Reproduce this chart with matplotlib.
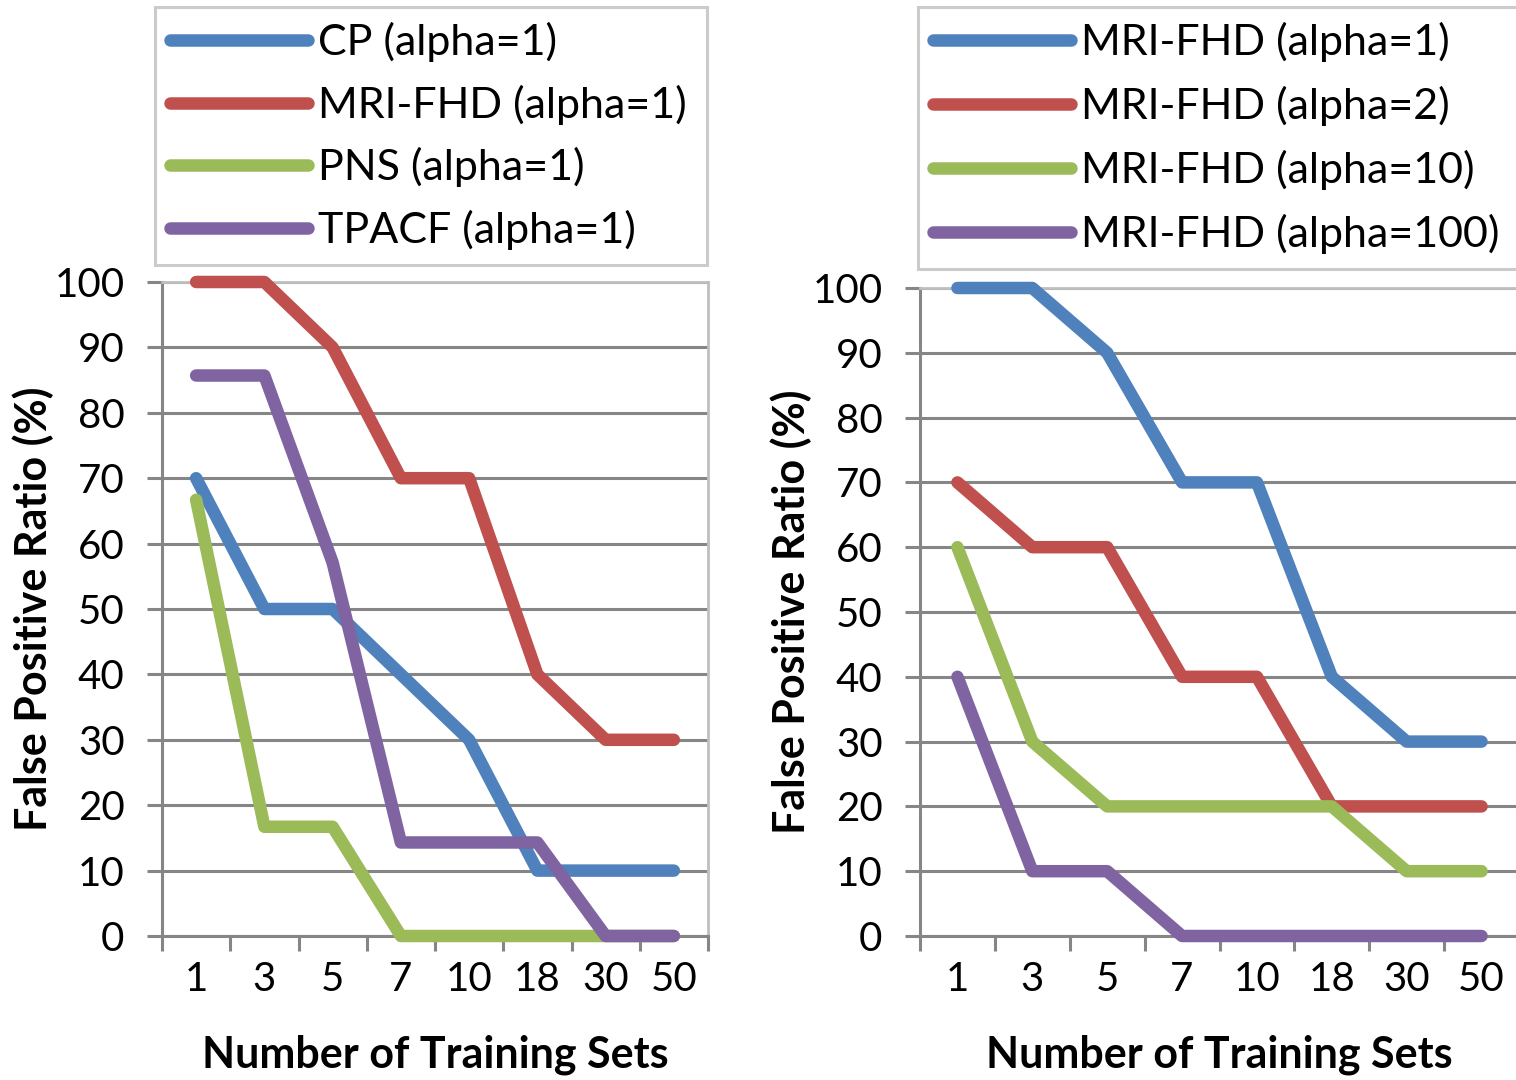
import matplotlib
matplotlib.use("Agg")
import matplotlib.pyplot as plt
from matplotlib.ticker import FixedLocator, NullFormatter

plt.rcParams['font.family'] = ['Lato', 'DejaVu Sans']

# data
categories = ['1', '3', '5', '7', '10', '18', '30', '50']

left_labels = ['CP (alpha=1)', 'MRI-FHD (alpha=1)', 'PNS (alpha=1)', 'TPACF (alpha=1)']
cp = [70, 50, 50, 40, 30, 10, 10, 10]
mri_fhd = [100, 100, 90, 70, 70, 40, 30, 30]
pns = [66.7, 16.7, 16.7, 0, 0, 0, 0, 0]
tpacf = [85.7, 85.7, 57.1, 14.3, 14.3, 14.3, 0, 0]

right_labels = ['MRI-FHD (alpha=1)', 'MRI-FHD (alpha=2)', 'MRI-FHD (alpha=10)', 'MRI-FHD (alpha=100)']
alpha1 = [100, 100, 90, 70, 70, 40, 30, 30]
alpha2 = [70, 60, 60, 40, 40, 20, 20, 20]
alpha10 = [60, 30, 20, 20, 20, 20, 10, 10]
alpha100 = [40, 10, 10, 0, 0, 0, 0, 0]

colors = ['#4F81BD', '#C0504D', '#9BBB59', '#8064A2']
grid_col = '#868686'
border_col = '#BFBFBF'

W, H = 1516, 1080
fig = plt.figure(figsize=(W / 100, H / 100), dpi=100)


def fx(px):
    return px / W


def fy(py):
    return 1 - py / H


def make_panel(rect, series, labels, leg_box, spacing):
    ax = fig.add_axes(rect)
    x = list(range(len(categories)))
    for vals, lab, c in zip(series, labels, colors):
        ax.plot(x, vals, color=c, lw=9, label=lab, solid_capstyle='round',
                solid_joinstyle='round', zorder=3, clip_on=False)
    ax.set_xlim(-0.5, len(categories) - 0.5)
    ax.set_ylim(0, 100)
    ax.set_yticks(range(0, 101, 10))
    ax.yaxis.grid(True, color=grid_col, lw=2.2, zorder=1)
    ax.set_axisbelow(True)

    # category labels at centres, tick marks at boundaries
    ax.xaxis.set_major_locator(FixedLocator([i - 0.5 for i in range(len(categories) + 1)]))
    ax.xaxis.set_major_formatter(NullFormatter())
    ax.xaxis.set_minor_locator(FixedLocator(x))
    ax.set_xticklabels(categories, minor=True)
    ax.tick_params(axis='x', which='major', length=11, width=2.2, color=grid_col, direction='out')
    ax.tick_params(axis='x', which='minor', length=0, pad=18, labelsize=29)
    ax.tick_params(axis='y', length=11, width=2.2, color=grid_col, pad=16, labelsize=29)

    ax.spines['left'].set_color(grid_col)
    ax.spines['bottom'].set_color(grid_col)
    ax.spines['left'].set_linewidth(2.2)
    ax.spines['bottom'].set_linewidth(2.2)
    ax.spines['top'].set_color(border_col)
    ax.spines['right'].set_color(border_col)
    ax.spines['top'].set_linewidth(2)
    ax.spines['right'].set_linewidth(2)

    ax.set_ylabel('False Positive Ratio (%)', fontsize=31, fontweight='bold', labelpad=0)
    ax.set_xlabel('Number of Training Sets', fontsize=31, fontweight='bold', labelpad=26)

    x0, y0, x1, y1 = leg_box
    leg = fig.legend(*ax.get_legend_handles_labels(), loc='upper left',
                     bbox_to_anchor=(fx(x0), fy(y1), fx(x1) - fx(x0), fy(y0) - fy(y1)),
                     mode='expand', borderaxespad=0, fontsize=31, frameon=True,
                     fancybox=False, handlelength=3.2, handletextpad=0.23,
                     labelspacing=spacing, borderpad=0.35)
    leg.get_frame().set_edgecolor(border_col)
    leg.get_frame().set_linewidth(2.2)
    for h in leg.legend_handles:
        h.set_linewidth(9)
    return ax


make_panel([fx(162), fy(936), fx(708) - fx(162), fy(282) - fy(936)],
           [cp, mri_fhd, pns, tpacf], left_labels, (155, 7, 707, 260), 0.52)
make_panel([fx(920), fy(936), fx(1519) - fx(920), fy(288) - fy(936)],
           [alpha1, alpha2, alpha10, alpha100], right_labels, (918, 7, 1545, 266), 0.55)

fig.savefig('out.png', dpi=100)
